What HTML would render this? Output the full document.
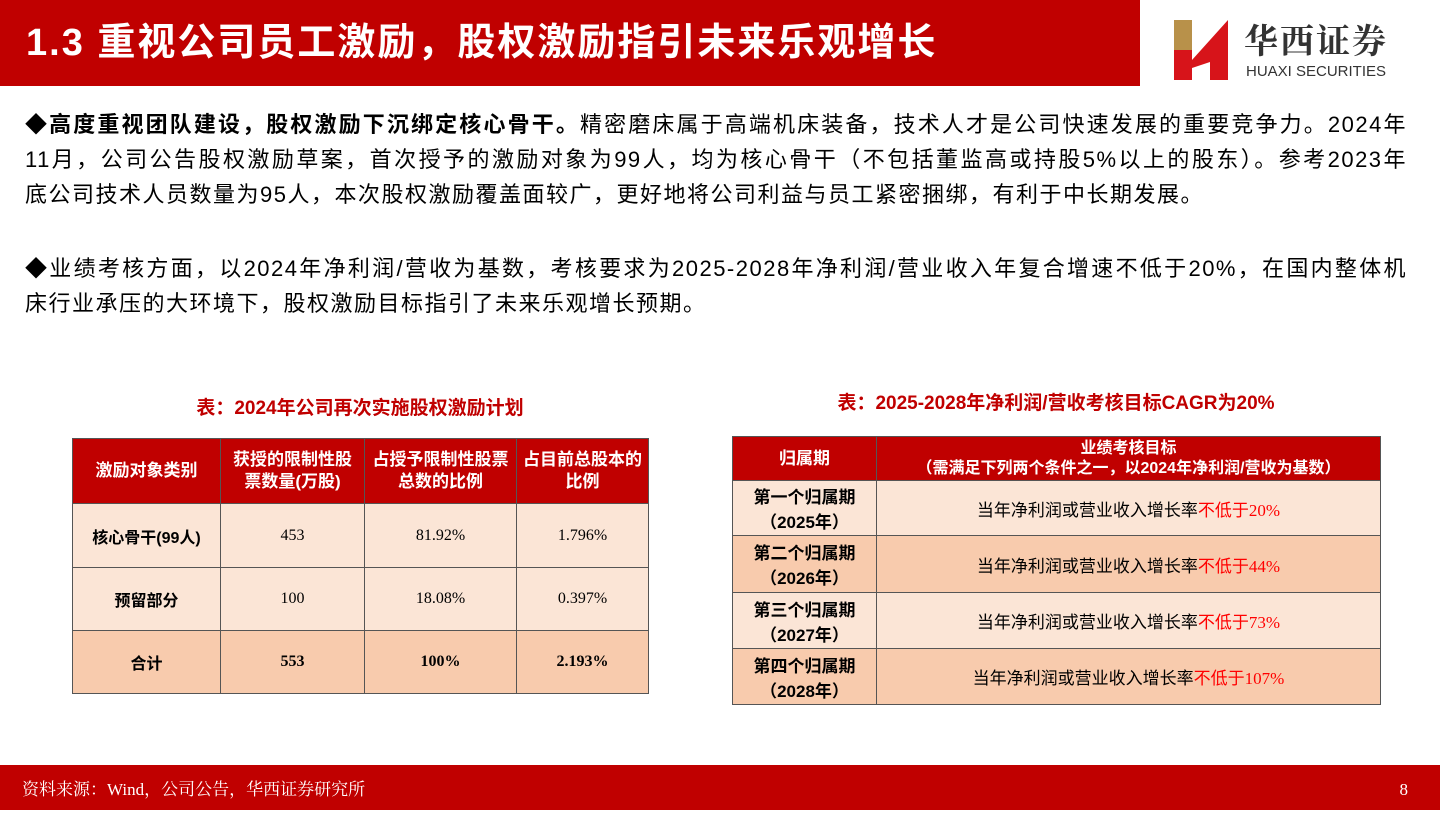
<!DOCTYPE html>
<html><head><meta charset="utf-8">
<style>
*{margin:0;padding:0;box-sizing:border-box}
body{width:1440px;height:810px;position:relative;background:#fff;font-family:"Liberation Sans","Noto Sans CJK SC",sans-serif;overflow:hidden;color:#000}
.abs{position:absolute}
#title-bar{left:0;top:0;width:1140px;height:86px;background:#c00000;color:#fff;font-size:38px;font-weight:bold;line-height:86px;padding-left:26px;letter-spacing:2px}
.para{left:25px;width:1382px;font-size:22px;line-height:35px;letter-spacing:1.5px}
.j{text-align:justify;text-align-last:justify;white-space:nowrap}
.cap{color:#c00000;font-weight:bold;font-size:19px;text-align:center}
table{position:absolute;border-collapse:collapse;font-size:16px}
td{border:1px solid #555;text-align:center;vertical-align:middle}
th{border:1px solid #555;background:#c00000;color:#fff;font-weight:bold;font-size:17px;line-height:22px}
.l{background:#fbe5d6}.d{background:#f8cbad}
.num{font-family:"Liberation Serif","Noto Serif CJK SC",serif}
.red{color:#ff0000}
#footer{left:0;top:765px;width:1440px;height:45px;background:#c00000;color:#fff;font-family:"Liberation Serif","Noto Serif CJK SC",serif;font-size:17px;line-height:50px;padding-left:22px}
</style></head><body>
<div id="title-bar" class="abs">1.3 重视公司员工激励，股权激励指引未来乐观增长</div>
<div class="abs" style="left:1172px;top:18px;width:240px;height:64px">
<svg width="58" height="64" style="position:absolute;left:0;top:0"><rect x="2" y="2" width="18" height="60" fill="#b8914a"/><polygon points="20,42 56,2 56,62 38,62 38,44 20,50" fill="#d7141a"/><rect x="2" y="32" width="18" height="30" fill="#d7141a"/></svg>
<div style="position:absolute;left:72px;top:-4px;font-family:'Noto Serif CJK SC',serif;font-size:34px;font-weight:bold;color:#333;letter-spacing:2px">华西证券</div>
<div style="position:absolute;left:74px;top:45px;font-size:15px;color:#333">HUAXI SECURITIES</div>
</div>
<div class="abs para" style="top:107px">
<div class="j">◆<b>高度重视团队建设，股权激励下沉绑定核心骨干。</b>精密磨床属于高端机床装备，技术人才是公司快速发展的重要竞争力。2024年</div>
<div class="j">11月，公司公告股权激励草案，首次授予的激励对象为99人，均为核心骨干（不包括董监高或持股5%以上的股东）。参考2023年</div>
<div>底公司技术人员数量为95人，本次股权激励覆盖面较广，更好地将公司利益与员工紧密捆绑，有利于中长期发展。</div>
</div>
<div class="abs para" style="top:251px">
<div class="j">◆业绩考核方面，以2024年净利润/营收为基数，考核要求为2025-2028年净利润/营业收入年复合增速不低于20%，在国内整体机</div>
<div>床行业承压的大环境下，股权激励目标指引了未来乐观增长预期。</div>
</div>
<div class="abs cap" style="left:72px;top:393px;width:576px">表：2024年公司再次实施股权激励计划</div>
<div class="abs cap" style="left:732px;top:388px;width:648px">表：2025-2028年净利润/营收考核目标CAGR为20%</div>
<table style="left:72px;top:438px;width:577px">
<tr style="height:65px"><th style="width:148px">激励对象类别</th><th style="width:144px">获授的限制性股<br>票数量(万股)</th><th style="width:152px">占授予限制性股票<br>总数的比例</th><th>占目前总股本的<br>比例</th></tr>
<tr style="height:64px" class="l"><td><b>核心骨干(99人)</b></td><td class="num">453</td><td class="num">81.92%</td><td class="num">1.796%</td></tr>
<tr style="height:63px" class="l"><td><b>预留部分</b></td><td class="num">100</td><td class="num">18.08%</td><td class="num">0.397%</td></tr>
<tr style="height:63px" class="d"><td><b>合计</b></td><td class="num"><b>553</b></td><td class="num"><b>100%</b></td><td class="num"><b>2.193%</b></td></tr>
</table>
<table style="left:732px;top:436px;width:649px;font-size:17px">
<tr style="height:44px"><th style="width:144px">归属期</th><th style="font-size:16px;line-height:20px">业绩考核目标<br>（需满足下列两个条件之一，以2024年净利润/营收为基数）</th></tr>
<tr style="height:55px" class="l"><td><b>第一个归属期<br>（2025年）</b></td><td>当年净利润或营业收入增长率<span class="red">不低于<span class="num">20%</span></span></td></tr>
<tr style="height:57px" class="d"><td><b>第二个归属期<br>（2026年）</b></td><td>当年净利润或营业收入增长率<span class="red">不低于<span class="num">44%</span></span></td></tr>
<tr style="height:56px" class="l"><td><b>第三个归属期<br>（2027年）</b></td><td>当年净利润或营业收入增长率<span class="red">不低于<span class="num">73%</span></span></td></tr>
<tr style="height:56px" class="d"><td><b>第四个归属期<br>（2028年）</b></td><td>当年净利润或营业收入增长率<span class="red">不低于<span class="num">107%</span></span></td></tr>
</table>
<div id="footer" class="abs">资料来源：Wind，公司公告，华西证券研究所<span style="position:absolute;right:32px">8</span></div>
</body></html>
